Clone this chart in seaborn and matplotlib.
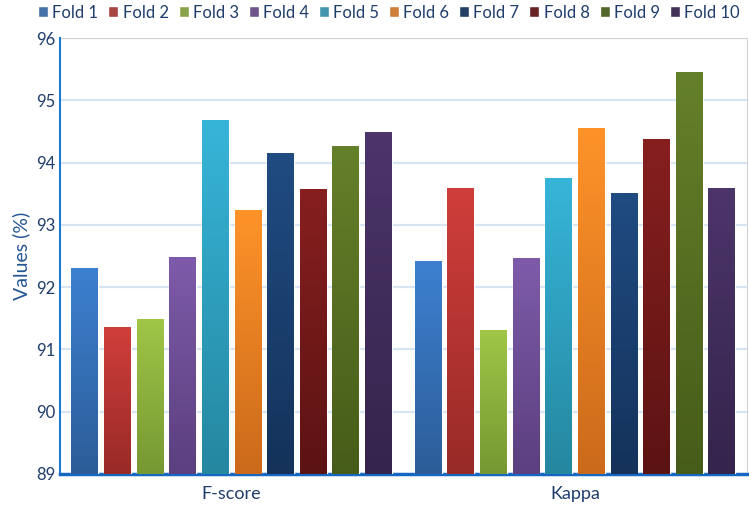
import matplotlib
matplotlib.use("Agg")
import matplotlib.pyplot as plt
import numpy as np
import pandas as pd
import seaborn as sns
from matplotlib.colors import LinearSegmentedColormap

metrics = ["F-score", "Kappa"]
folds = ["Fold 1", "Fold 2", "Fold 3", "Fold 4", "Fold 5",
         "Fold 6", "Fold 7", "Fold 8", "Fold 9", "Fold 10"]
fscore = [92.30, 91.36, 91.48, 92.48, 94.68, 93.23, 94.15, 93.57, 94.26, 94.49]
kappa = [92.41, 93.59, 91.30, 92.46, 93.75, 94.55, 93.51, 94.37, 95.45, 93.59]

# gradient colours per fold: (top, bottom)
top_colors = ["#3d80d0", "#d03e3b", "#a0c647", "#7e5baa", "#37b5d9",
              "#fe9329", "#204c82", "#871f1f", "#65802a", "#4c356b"]
bottom_colors = ["#2c5d98", "#982a27", "#769833", "#5b3f7e", "#2587a0",
                 "#cb6a1b", "#14325a", "#5c1313", "#465c19", "#35244b"]
mid_colors = ["#3570b8", "#b83532", "#8db13d", "#6d4d95", "#2fa0be",
              "#e67e22", "#1a3f6e", "#731919", "#567021", "#412d5c"]

df = pd.DataFrame({
    "metric": metrics * len(folds),
    "fold": np.repeat(folds, len(metrics)),
    "value": [v for pair in zip(fscore, kappa) for v in pair],
})

text_color = "#1f3d6b"
sns.set_style("white")
plt.rcParams["font.family"] = ["Lato", "DejaVu Sans"]

fig, ax = plt.subplots(figsize=(7.49, 5.08), dpi=100)
fig.subplots_adjust(left=0.080, right=0.997, bottom=0.067, top=0.925)

sns.barplot(df, x="metric", y="value", hue="fold", palette=mid_colors,
            width=0.95, gap=0.18, ax=ax, zorder=3)

ymin, ymax = 89, 96
ax.set_ylim(ymin, ymax)
ax.set_xlim(-0.5, 1.5)

# gradient fill on each bar
grad = np.linspace(1, 0, 256).reshape(-1, 1)
for i, cont in enumerate(ax.containers):
    cmap = LinearSegmentedColormap.from_list(f"g{i}", [bottom_colors[i], top_colors[i]])
    for bar in cont:
        x, w = bar.get_x(), bar.get_width()
        h = bar.get_height()
        ax.imshow(grad, cmap=cmap, extent=[x, x + w, ymin, h], aspect="auto",
                  zorder=4, origin="upper", vmin=0, vmax=1)
ax.set_ylim(ymin, ymax)
ax.set_xlim(-0.5, 1.5)

ax.set_yticks(range(89, 97))
for yv in range(90, 96):
    ax.axhline(yv, color="#d6e4f3", lw=1.6, zorder=1)
ax.axhline(96, color="#d2d2d2", lw=1.6, zorder=1)

ax.set_xlabel("")
ax.set_ylabel("Values (%)", fontsize=14, color="#245694")
ax.tick_params(axis="both", length=0, labelcolor=text_color, labelsize=12)
ax.tick_params(axis="x", labelsize=13, pad=9)

ax.spines["top"].set_visible(False)
ax.spines["right"].set_color("#d2d2d2")
ax.spines["left"].set_color("#1a7bd0")
ax.spines["left"].set_linewidth(1.5)
ax.spines["bottom"].set_color("#1667c1")
ax.spines["bottom"].set_linewidth(2.5)

sns.move_legend(ax, "lower center", bbox_to_anchor=(0.479, 1.025), ncol=10,
                frameon=False, title=None, handlelength=0.6, handleheight=0.6,
                handletextpad=0.25, columnspacing=0.6, fontsize=12,
                labelcolor=text_color, borderaxespad=0)

plt.savefig("out.png", dpi=100)
